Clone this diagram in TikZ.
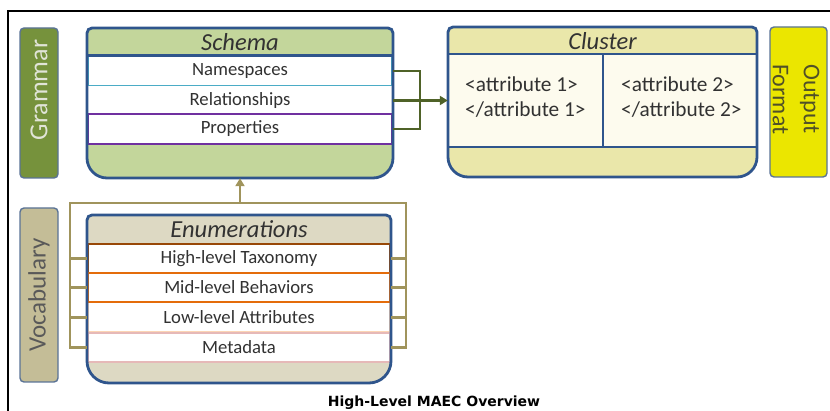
\documentclass[tikz,border=0pt]{standalone}
\usepackage{fontspec}
\setmainfont{Carlito}
\newfontfamily\capfont{DejaVu Sans}
\usetikzlibrary{arrows.meta}
\definecolor{bdblue}{RGB}{47,85,140}
\definecolor{grgreen}{RGB}{118,146,60}
\definecolor{ltgreen}{RGB}{195,214,155}
\definecolor{nscol}{RGB}{75,172,198}
\definecolor{propcol}{RGB}{112,48,160}
\definecolor{olivec}{RGB}{79,98,40}
\definecolor{clhead}{RGB}{234,231,170}
\definecolor{clbody}{RGB}{253,251,238}
\definecolor{outyel}{RGB}{235,230,0}
\definecolor{vocfill}{RGB}{196,189,151}
\definecolor{enhead}{RGB}{221,217,195}
\definecolor{tanline}{RGB}{160,148,92}
\definecolor{hlcol}{RGB}{152,72,7}
\definecolor{mlcol}{RGB}{228,108,10}
\definecolor{llcol}{RGB}{252,213,181}
\definecolor{mdcol}{RGB}{230,185,184}
\definecolor{txtgray}{RGB}{50,50,50}
\definecolor{sidebd}{RGB}{90,115,150}
\definecolor{outtxt}{RGB}{80,80,40}
\newcommand\maecshape[6]{%
  \path[#1] (#2,#3+5) arc(180:270:5) -- (#4-5,#3) arc(270:360:5) -- (#4,#5-#6) arc(0:90:#6) -- (#2+#6,#5) arc(90:180:#6) -- cycle;}
\tikzset{
  rowbox/.style={rectangle, fill=white, minimum width=304pt, inner sep=0pt, line width=2pt,
    text=txtgray, font=\fontsize{18.7}{22}\selectfont},
  headtxt/.style={text=txtgray, font=\fontsize{24.5}{28}\selectfont\itshape, inner sep=0pt},
  area/.style={rectangle, inner sep=0pt, draw=none},
  sidebox/.style={rectangle, rounded corners=4pt, draw=sidebd, line width=1.4pt, inner sep=0pt},
  oliveline/.style={draw=olivec, line width=2.8pt},
  tanl/.style={draw=tanline, line width=2.8pt},
  attr/.style={align=left, anchor=west, text=txtgray, font=\fontsize{21.3}{25}\selectfont, inner sep=0pt},
}
\begin{document}
\begin{tikzpicture}[x=1pt,y=-1pt]
\useasboundingbox (0,0) rectangle (830,411);
% frame
\draw[line width=2pt] (8,411) -- (8,11) -- (830,11);

% Grammar
\node[sidebox, fill=grgreen, minimum width=38pt, minimum height=150pt] (gram) at (39,103) {};
\node[rotate=90, text={rgb,255:red,225;green,228;blue,215}, font=\fontsize{26}{28}\selectfont, inner sep=0pt] (gramtxt) at (39,90) {Grammar};

% Vocabulary
\node[sidebox, fill=vocfill, minimum width=38pt, minimum height=174pt] (voc) at (39,295) {};
\node[rotate=90, text={rgb,255:red,89;green,89;blue,89}, font=\fontsize{25}{28}\selectfont, inner sep=0pt] (voctxt) at (39,295) {Vocabulary};

% Output Format
\node[sidebox, fill=outyel, minimum width=57pt, minimum height=150pt] (outf) at (798.5,102) {};
\node[rotate=-90, anchor=west, align=left, text=outtxt, font=\fontsize{24}{31}\selectfont, inner sep=0pt] (outtxt) at (796,64) {Output\\Format};

% Schema
\node[area, minimum width=306pt, minimum height=150pt] (schema) at (240,103) {};
\maecshape{fill=ltgreen}{87}{28}{393}{178}{20}
\node[rowbox, draw=nscol, minimum height=31pt] (ns) at (240,71) {Namespaces};
\node[rowbox, draw=white, minimum height=26pt] (rel) at (240,100.5) {Relationships};
\node[rowbox, draw=propcol, minimum height=30pt] (prop) at (240,129) {Properties};
\draw[bdblue, line width=2.2pt] (87,55.5) -- (393,55.5);
\node[headtxt] (schemat) at (240,42) {Schema};
\maecshape{draw=bdblue, line width=2.8pt}{87}{28}{393}{178}{20}

% Cluster
\node[area, minimum width=309pt, minimum height=150pt] (cluster) at (602.5,102) {};
\maecshape{fill=clhead}{448}{27}{757}{177}{20}
\fill[clbody] (449,54) rectangle (756,147);
\draw[bdblue, line width=2.2pt] (448,54) -- (757,54);
\draw[bdblue, line width=1.6pt] (448,147) -- (757,147);
\draw[bdblue, line width=2.6pt] (603,54) -- (603,147);
\node[headtxt] (clustert) at (602.5,41) {Cluster};
\node[attr] (a1) at (465,97.5) {<attribute 1>\\</attribute 1>};
\node[attr] (a2) at (621,97.5) {<attribute 2>\\</attribute 2>};
\maecshape{draw=bdblue, line width=2.8pt}{448}{27}{757}{177}{20}

% Enumerations
\node[area, minimum width=304pt, minimum height=168pt] (enum) at (239,299) {};
\maecshape{fill=enhead}{87}{215}{391}{383}{22}
\node[rowbox, draw=llcol, minimum width=302pt, minimum height=30pt] (ll) at (239,317.5) {Low-level Attributes};
\node[rowbox, draw=mdcol, minimum width=302pt, minimum height=29pt] (md) at (239,347.5) {Metadata};
\node[rowbox, draw=hlcol, minimum width=302pt, minimum height=29pt] (hl) at (239,258.5) {High-level Taxonomy};
\node[rowbox, draw=mlcol, minimum width=302pt, minimum height=29pt, line width=2.4pt] (ml) at (239,287.5) {Mid-level Behaviors};
\node[headtxt] (enumt) at (239,229.5) {Enumerations};
\maecshape{draw=bdblue, line width=2.8pt}{87}{215}{391}{383}{22}

% olive connectors
\coordinate (jn) at (420,100.5);
\draw[oliveline] (ns.east) -| (jn);
\draw[oliveline] (prop.east) -| (jn);
\draw[oliveline, -{Triangle[length=8pt,width=9pt]}] (rel.east) -- (rel.east -| cluster.west);

% tan connectors
\coordinate (tl) at (70,203);
\coordinate (tr) at (406,203);
\draw[tanl] (md.west) -- (md.west -| tl) |- (tr) |- (md.east);
\draw[tanl] (hl.west) -- (hl.west -| tl);
\draw[tanl] (ml.west) -- (ml.west -| tl);
\draw[tanl] (ll.west) -- (ll.west -| tl);
\draw[tanl] (hl.east) -- (hl.east -| tr);
\draw[tanl] (ml.east) -- (ml.east -| tr);
\draw[tanl] (ll.east) -- (ll.east -| tr);
\draw[tanl, -{Triangle[length=8pt,width=9pt]}] (schema.south |- tr) -- (schema.south);

% caption
\node[font=\capfont\bfseries\fontsize{14}{16}\selectfont, inner sep=0pt] (cap) at (434,403) {High-Level MAEC Overview};
\end{tikzpicture}
\end{document}
